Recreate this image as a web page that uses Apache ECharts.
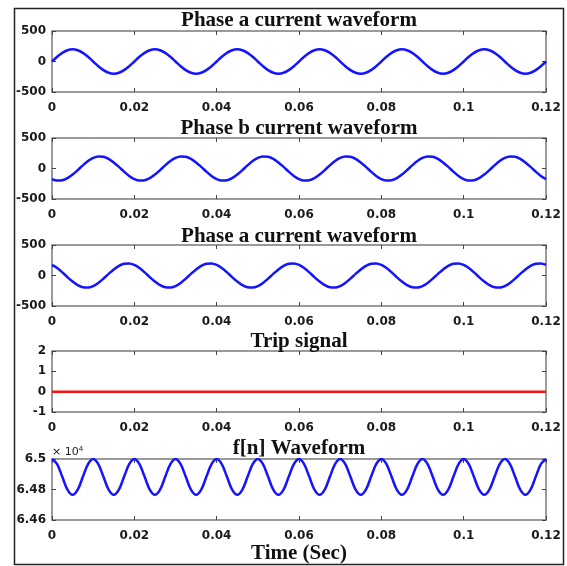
<!DOCTYPE html>
<html>
<head>
<meta charset="utf-8">
<script src="https://cdn.jsdelivr.net/npm/echarts@6/dist/echarts.min.js"></script>
<style>
html, body { margin: 0; padding: 0; background: #fff; }
#main { width: 567px; height: 566px; }
</style>
</head>
<body>
<div id="main"></div>
<script>
// sample times (s), shared by every waveform
var timeS = [0, 0.00125, 0.0025, 0.00375, 0.005, 0.00625, 0.0075, 0.00875,
  0.01, 0.01125, 0.0125, 0.01375, 0.015, 0.01625, 0.0175, 0.01875,
  0.02, 0.02125, 0.0225, 0.02375, 0.025, 0.02625, 0.0275, 0.02875,
  0.03, 0.03125, 0.0325, 0.03375, 0.035, 0.03625, 0.0375, 0.03875,
  0.04, 0.04125, 0.0425, 0.04375, 0.045, 0.04625, 0.0475, 0.04875,
  0.05, 0.05125, 0.0525, 0.05375, 0.055, 0.05625, 0.0575, 0.05875,
  0.06, 0.06125, 0.0625, 0.06375, 0.065, 0.06625, 0.0675, 0.06875,
  0.07, 0.07125, 0.0725, 0.07375, 0.075, 0.07625, 0.0775, 0.07875,
  0.08, 0.08125, 0.0825, 0.08375, 0.085, 0.08625, 0.0875, 0.08875,
  0.09, 0.09125, 0.0925, 0.09375, 0.095, 0.09625, 0.0975, 0.09875,
  0.1, 0.10125, 0.1025, 0.10375, 0.105, 0.10625, 0.1075, 0.10875,
  0.11, 0.11125, 0.1125, 0.11375, 0.115, 0.11625, 0.1175, 0.11875,
  0.12];
var timeTrip = [0, 0.12];

var phaseA = [0, 77, 141, 185, 200, 185, 141, 77, 0, -77, -141, -185, -200, -185, -141, -77,
  0, 77, 141, 185, 200, 185, 141, 77, 0, -77, -141, -185, -200, -185, -141, -77,
  0, 77, 141, 185, 200, 185, 141, 77, 0, -77, -141, -185, -200, -185, -141, -77,
  0, 77, 141, 185, 200, 185, 141, 77, 0, -77, -141, -185, -200, -185, -141, -77,
  0, 77, 141, 185, 200, 185, 141, 77, 0, -77, -141, -185, -200, -185, -141, -77,
  0, 77, 141, 185, 200, 185, 141, 77, 0, -77, -141, -185, -200, -185, -141, -77,
  0];
var phaseB = [-173, -198, -193, -159, -100, -26, 52, 122, 173, 198, 193, 159, 100, 26, -52, -122,
  -173, -198, -193, -159, -100, -26, 52, 122, 173, 198, 193, 159, 100, 26, -52, -122,
  -173, -198, -193, -159, -100, -26, 52, 122, 173, 198, 193, 159, 100, 26, -52, -122,
  -173, -198, -193, -159, -100, -26, 52, 122, 173, 198, 193, 159, 100, 26, -52, -122,
  -173, -198, -193, -159, -100, -26, 52, 122, 173, 198, 193, 159, 100, 26, -52, -122,
  -173, -198, -193, -159, -100, -26, 52, 122, 173, 198, 193, 159, 100, 26, -52, -122,
  -173];
var phaseC = [173, 122, 52, -26, -100, -159, -193, -198, -173, -122, -52, 26, 100, 159, 193, 198,
  173, 122, 52, -26, -100, -159, -193, -198, -173, -122, -52, 26, 100, 159, 193, 198,
  173, 122, 52, -26, -100, -159, -193, -198, -173, -122, -52, 26, 100, 159, 193, 198,
  173, 122, 52, -26, -100, -159, -193, -198, -173, -122, -52, 26, 100, 159, 193, 198,
  173, 122, 52, -26, -100, -159, -193, -198, -173, -122, -52, 26, 100, 159, 193, 198,
  173, 122, 52, -26, -100, -159, -193, -198, -173, -122, -52, 26, 100, 159, 193, 198,
  173];
var tripVals = [0, 0];
// f[n] in units of 10^4
var fnVals = [6.5, 6.4966, 6.4883, 6.4799, 6.4765, 6.4799, 6.4883, 6.4966,
  6.5, 6.4966, 6.4883, 6.4799, 6.4765, 6.4799, 6.4883, 6.4966,
  6.5, 6.4966, 6.4883, 6.4799, 6.4765, 6.4799, 6.4883, 6.4966,
  6.5, 6.4966, 6.4883, 6.4799, 6.4765, 6.4799, 6.4883, 6.4966,
  6.5, 6.4966, 6.4883, 6.4799, 6.4765, 6.4799, 6.4883, 6.4966,
  6.5, 6.4966, 6.4883, 6.4799, 6.4765, 6.4799, 6.4883, 6.4966,
  6.5, 6.4966, 6.4883, 6.4799, 6.4765, 6.4799, 6.4883, 6.4966,
  6.5, 6.4966, 6.4883, 6.4799, 6.4765, 6.4799, 6.4883, 6.4966,
  6.5, 6.4966, 6.4883, 6.4799, 6.4765, 6.4799, 6.4883, 6.4966,
  6.5, 6.4966, 6.4883, 6.4799, 6.4765, 6.4799, 6.4883, 6.4966,
  6.5, 6.4966, 6.4883, 6.4799, 6.4765, 6.4799, 6.4883, 6.4966,
  6.5, 6.4966, 6.4883, 6.4799, 6.4765, 6.4799, 6.4883, 6.4966,
  6.5];

var titles = ['Phase a current waveform', 'Phase b current waveform', 'Phase a current waveform', 'Trip signal', 'f[n] Waveform'];
var xTicks = { min: 0, max: 0.12, interval: 0.02 };
var yRanges = [
  { min: -500, max: 500, interval: 500 },
  { min: -500, max: 500, interval: 500 },
  { min: -500, max: 500, interval: 500 },
  { min: -1, max: 2, interval: 1 },
  { min: 6.46, max: 6.5, interval: 0.02 }
];
var seriesX = [timeS, timeS, timeS, timeTrip, timeS];
var seriesY = [phaseA, phaseB, phaseC, tripVals, fnVals];
var seriesColor = ['#1414ff', '#1414ff', '#1414ff', '#ff1010', '#1414ff'];

var plotTop = [31, 138, 245, 351, 459];
var plotH = 61;
var titleY = [21, 129, 237, 342, 449];

function pairs(xs, ys) {
  var out = [];
  for (var i = 0; i < xs.length; i++) {
    out.push([xs[i], ys[i]]);
  }
  return out;
}

var labelStyle = { color: '#1a1a1a', fontFamily: 'DejaVu Sans', fontWeight: 'bold', fontSize: 12 };
var tickStyle = { show: true, inside: true, length: 4, lineStyle: { color: '#444', width: 1 } };
var noLine = { show: false, onZero: false };

var grids = [], xAxes = [], yAxes = [], series = [], graphics = [];
for (var i = 0; i < 5; i++) {
  grids.push({ left: 52, right: 21, top: plotTop[i], height: plotH, show: true,
    borderColor: '#7a7a7a', borderWidth: 1.5, backgroundColor: '#fff' });
  xAxes.push({ type: 'value', gridIndex: i, position: 'bottom', min: xTicks.min, max: xTicks.max, interval: xTicks.interval,
    axisLine: noLine, axisTick: tickStyle, splitLine: { show: false },
    axisLabel: Object.assign({ margin: 10 }, labelStyle) });
  yAxes.push({ type: 'value', gridIndex: i, position: 'left', min: yRanges[i].min, max: yRanges[i].max, interval: yRanges[i].interval,
    axisLine: noLine, axisTick: tickStyle, splitLine: { show: false },
    axisLabel: Object.assign({ margin: 6 }, labelStyle) });
  series.push({ type: 'line', xAxisIndex: i, yAxisIndex: i, data: pairs(seriesX[i], seriesY[i]),
    smooth: i === 3 ? false : 0.33, showSymbol: false, symbol: 'none', animation: false,
    lineStyle: { color: seriesColor[i], width: 2.5 } });
  graphics.push({ type: 'text', x: 299, y: titleY[i], z: 100,
    style: { text: titles[i], textAlign: 'center', textVerticalAlign: 'middle',
      font: 'bold 21px "Liberation Serif"', fill: '#111' } });
}
// mirrored ticks on top and right edges
for (var j = 0; j < 5; j++) {
  xAxes.push({ type: 'value', gridIndex: j, position: 'top', min: xTicks.min, max: xTicks.max, interval: xTicks.interval,
    axisLine: noLine, axisTick: tickStyle, axisLabel: { show: false }, splitLine: { show: false } });
  yAxes.push({ type: 'value', gridIndex: j, position: 'right', min: yRanges[j].min, max: yRanges[j].max, interval: yRanges[j].interval,
    axisLine: noLine, axisTick: tickStyle, axisLabel: { show: false }, splitLine: { show: false } });
}

graphics.push({ type: 'text', x: 52, y: 452, z: 100,
  style: { text: '\u00d7 10{s|4}', textVerticalAlign: 'middle', font: '11px "DejaVu Sans"', fill: '#1a1a1a',
    rich: { s: { fontSize: 8, verticalAlign: 'top', padding: [0, 0, 6, 0] } } } });
graphics.push({ type: 'text', x: 299, y: 554, z: 100,
  style: { text: 'Time (Sec)', textAlign: 'center', textVerticalAlign: 'middle',
    font: 'bold 21px "Liberation Serif"', fill: '#111' } });
graphics.push({ type: 'rect', z: -1, shape: { x: 14.5, y: 8.5, width: 549, height: 556 },
  style: { fill: 'none', stroke: '#222', lineWidth: 1.5 } });

var chart = echarts.init(document.getElementById('main'));
chart.setOption({
  animation: false,
  backgroundColor: '#fff',
  grid: grids,
  xAxis: xAxes,
  yAxis: yAxes,
  series: series,
  graphic: graphics
});
</script>
</body>
</html>
